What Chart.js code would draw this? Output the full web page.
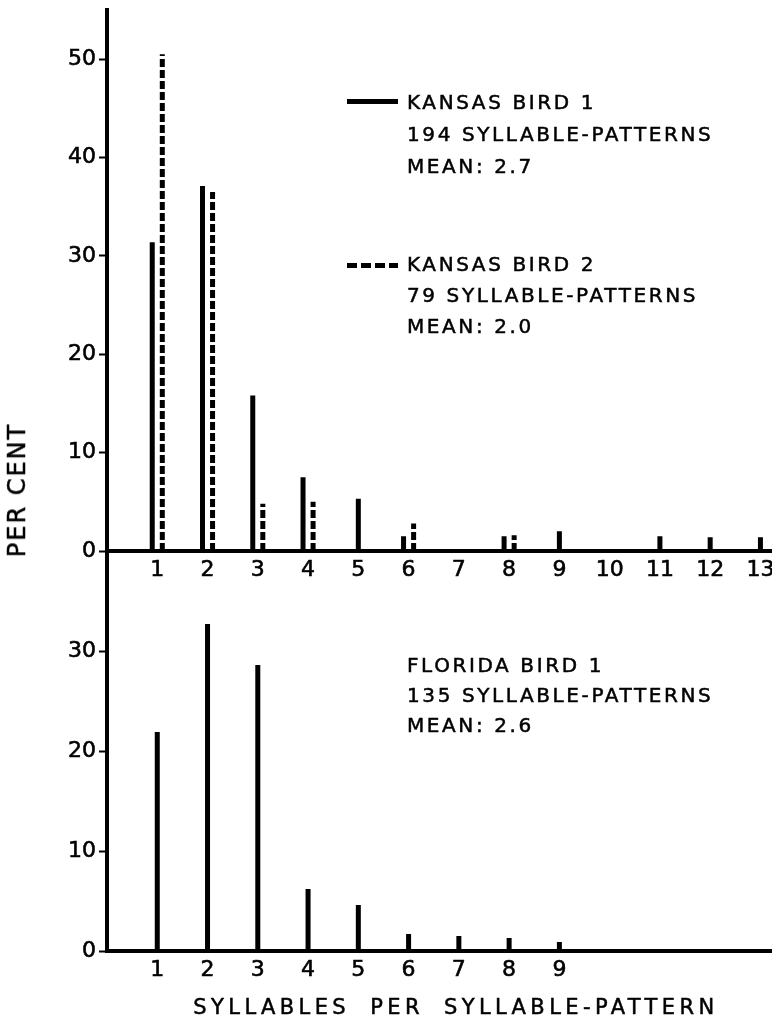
<!DOCTYPE html>
<html>
<head>
<meta charset="utf-8">
<title>Syllables per syllable-pattern</title>
<script src="https://cdn.jsdelivr.net/npm/chart.js@4.4.1/dist/chart.umd.min.js"></script>
<style>
  html, body { margin: 0; padding: 0; background: #fff; }
  #page { position: relative; width: 772px; height: 1027px; overflow: hidden;
          font-family: "DejaVu Sans", sans-serif; color: #000; -webkit-text-stroke: 0.5px #000; }
  .panel { position: absolute; left: 0; width: 772px; }
  #topPanel { top: 0; height: 600px; }
  #bottomPanel { top: 551px; height: 476px; }
  .note { position: absolute; left: 407px; font-size: 20px; letter-spacing: 2.6px; white-space: nowrap; }
  .key { position: absolute; left: 347px; width: 51px; height: 5px; }
  .key.solid { background: #000; }
  .key.dashed { background: repeating-linear-gradient(90deg, #000 0 10px, transparent 10px 14px); }
  #yTitle { position: absolute; left: 17px; top: 490px; font-size: 24px; letter-spacing: 2px;
            white-space: nowrap; transform: translate(-50%, -50%) rotate(-90deg); }
  #xTitle { position: absolute; left: 456px; top: 1007px; font-size: 21px; letter-spacing: 4.4px;
            word-spacing: 9px; white-space: nowrap; transform: translate(-50%, -50%); }
</style>
</head>
<body>
<div id="page">
  <div class="panel" id="topPanel"><canvas id="kansasChart"></canvas></div>
  <div class="panel" id="bottomPanel"><canvas id="floridaChart"></canvas></div>

  <div class="key solid" style="top: 99px;"></div>
  <div class="note" style="top: 86px; line-height: 32px;">KANSAS BIRD 1<br>194 SYLLABLE-PATTERNS<br>MEAN: 2.7</div>

  <div class="key dashed" style="top: 263px;"></div>
  <div class="note" style="top: 249px; line-height: 31px;">KANSAS BIRD 2<br>79 SYLLABLE-PATTERNS<br>MEAN: 2.0</div>

  <div class="note" style="top: 650px; line-height: 30px;">FLORIDA BIRD 1<br>135 SYLLABLE-PATTERNS<br>MEAN: 2.6</div>

  <div id="yTitle">PER CENT</div>
  <div id="xTitle">SYLLABLES PER SYLLABLE-PATTERN</div>
</div>

<script>
// syllables per pattern, percent of patterns
const kansasCategories = [1, 2, 3, 4, 5, 6, 7, 8, 9, 10, 11, 12, 13];
const kansasBird1 = [31.4, 37.1, 15.8, 7.5, 5.3, 1.5, null, 1.5, 2.0, null, 1.5, 1.4, 1.4];
const kansasBird2 = [50.5, 36.5, 4.8, 5.0, null, 2.8, null, 1.6, null, null, null, null, null];
const kansasYTicks = [0, 10, 20, 30, 40, 50];

const floridaCategories = [1, 2, 3, 4, 5, 6, 7, 8, 9];
const floridaBird1 = [21.9, 32.7, 28.6, 6.2, 4.6, 1.7, 1.5, 1.3, 0.9];
const floridaYTicks = [0, 10, 20, 30];

const FONT = { family: 'DejaVu Sans', size: 22 };
const X_MAX = 13.23;

// each value becomes a vertical stem from 0; paired stems sit either side of the category
function stems(categories, values, other, side) {
  const pts = [];
  categories.forEach((c, i) => {
    const v = values[i];
    if (v == null) return;
    const x = other && other[i] != null ? c + side * 0.1 : c;
    pts.push({ x: x, y: 0 }, { x: x, y: v }, { x: x, y: null });
  });
  return pts;
}

function stemDataset(data, dash) {
  return {
    data: data,
    borderColor: '#000',
    borderWidth: 5,
    borderCapStyle: 'butt',
    borderDash: dash,
    pointRadius: 0,
    spanGaps: false,
    tension: 0
  };
}

function xScale(ticks, height, pad) {
  return {
    type: 'linear',
    min: 0,
    max: X_MAX,
    afterBuildTicks: (s) => { s.ticks = ticks.map((v) => ({ value: v })); },
    afterFit: (s) => { s.height = height; s.paddingLeft = 0; s.paddingRight = 0; },
    grid: { display: false, drawTicks: false },
    border: { display: true, color: '#000', width: 4 },
    ticks: { autoSkip: false, maxRotation: 0, padding: pad, color: '#000', font: FONT,
             textStrokeColor: '#000', textStrokeWidth: 0.6 }
  };
}

function yScale(max, ticks) {
  return {
    type: 'linear',
    min: 0,
    max: max,
    afterBuildTicks: (s) => { s.ticks = ticks.map((v) => ({ value: v })); },
    afterFit: (s) => { s.width = 107; s.paddingTop = 0; s.paddingBottom = 0; },
    grid: { display: true, drawOnChartArea: false, drawTicks: true, tickLength: 8, tickWidth: 2, tickColor: '#000' },
    border: { display: true, color: '#000', width: 4 },
    ticks: { padding: 3, color: '#000', font: FONT, textStrokeColor: '#000', textStrokeWidth: 0.6 }
  };
}

function baseOptions(padding, x, y) {
  return {
    responsive: true,
    maintainAspectRatio: false,
    animation: false,
    devicePixelRatio: 1,
    layout: { padding: padding },
    scales: { x: x, y: y },
    plugins: { legend: { display: false }, tooltip: { enabled: false }, title: { display: false } }
  };
}

new Chart(document.getElementById('kansasChart'), {
  type: 'line',
  data: {
    datasets: [
      stemDataset(stems(kansasCategories, kansasBird1, kansasBird2, -1), []),
      stemDataset(stems(kansasCategories, kansasBird2, kansasBird1, 1), [8, 3])
    ]
  },
  options: baseOptions({ top: 10, left: 0, right: 0, bottom: 0 },
    xScale(kansasCategories, 49, 6), yScale(55, kansasYTicks))
});

new Chart(document.getElementById('floridaChart'), {
  type: 'line',
  data: {
    datasets: [stemDataset(stems(floridaCategories, floridaBird1, null, 0), [])]
  },
  options: baseOptions({ top: 0, left: 0, right: 0, bottom: 0 },
    xScale(floridaCategories, 76, 6), yScale(40, floridaYTicks))
});
</script>
</body>
</html>
